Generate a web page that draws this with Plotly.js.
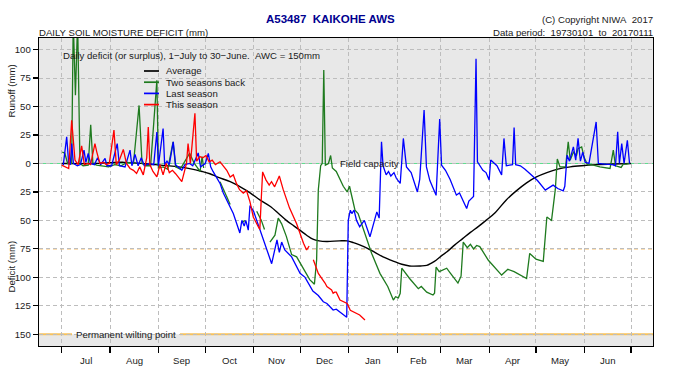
<!DOCTYPE html>
<html>
<head>
<meta charset="utf-8">
<script src="https://cdn.plot.ly/plotly-3.0.1.min.js"></script>
<style>html,body{margin:0;padding:0;background:#fff;}#chart{width:700px;height:385px;}</style>
</head>
<body>
<div id="chart"></div>
<script>
// ---------- DATA (day offset from 1 July, value: + runoff / - deficit, mm) ----------
const monthStarts = [0,31,62,92,123,153,184,215,243,274,304,335,365];
const monthNames  = ['Jul','Aug','Sep','Oct','Nov','Dec','Jan','Feb','Mar','Apr','May','Jun'];
const yTickVals = [100,75,50,25,0,-25,-50,-75,-100,-125,-150];
const yTickText = ['100','75','50','25','0','25','50','75','100','125','150'];

const avgDays = [0,20,40,60,75,82,90,95,100,108,115,121,127,134,139,144,149,153,157,161,165,170,178,183,187,191,196,200,206,213,218,223,230,234,237,240,244,247,252,257,262,267,272,278,285,291,298,304,311,318,326,335,343,354,365];
const avgVals = [0,0,1,-1,-3,-4.5,-7,-9,-12,-16,-21,-26,-32,-38,-44,-50,-55,-59,-63,-66.5,-68,-68.5,-68,-68,-69.5,-71.5,-74.5,-77.5,-82,-86,-88.5,-90,-90,-89.5,-87.5,-85,-80.5,-77.5,-71.5,-66,-60.5,-55.5,-50,-43,-32,-24.5,-17,-12,-8,-5,-3,-1.8,-1,-0.4,0];

const twoBackDays = [0.4,2,3.8,6.4,7.4,8.8,10.2,11.7,13.7,17,18.6,20,22.4,26,30,34,38,42,46,49.6,51.5,54,57,61,62,65,68,71.4,73,76,79,82,85,88.7,90,91,null,
  101.5,105,108,null,115.5,117.5,null,125,128,130,null,
  133.5,136.7,138.8,141,144,147.4,150.6,155,159,162,163.4,164.5,166,167,168,169,171,172.4,173.5,176,178,180.5,183,184.5,186,188,190,194,198.7,204,209,212.6,214,215.8,217,218,220,223,228.6,230.5,234,238,239,240,242,246.8,249,254,256,257.4,260,262,264,266,268,273.5,282,286,290,298,300,304,308.7,311,314,315.6,316.4,317.7,319.4,323,324.7,326,328,330,331,333.3,335,337,340.8,345,351.5,353.6,355,358.6,360,362,364];
const twoBackVals = [10,9,0,0,125,60,125,0,-2,-1.5,34,0,-1.5,-2,-3,-1,-2,1,0,51,0,-2,-2,73,-4,-3,-5,19,-3,-5,2,9,0,-7,6,-4,null,
  -16,-26,-36,null,-52,-50,null,-42,-50,-58,null,
  -69,-63,-48,-53,-64,-80,-82,-92,-102,-106,-85,-23,-2,0,82,-1.5,0,7,-4,-7,-13,-20,-25,-20,-29,-41,-44,-60,-79,-96.5,-108,-120,-117,-118,-114,-92,-96,-101,-110,-108,-113,-115.5,-114,-91,-95,-92,-96,-105,-99,-69,-74,-71,-75,-72,-73,-85,-98,-93,-95,-101,-79,-84,-86,-47,-50,-34,-23,4,-3,-3,19,3,10,7,13,14.6,5,-1,-1.5,-3,-4.4,11.7,-2,-3.5,-0.5,-0.6,0];

const lastDays = [1,3.2,4.5,5.5,6.4,7.5,10,12,14.3,15.5,17,18.5,21,23,25,27.8,29,32,35.6,37,40.6,43.8,45,47,49,51,53,56,59,61,62,65,66,67.5,69,71.5,73,77,79,82,84,87.5,89,92,94,95.5,97,101.5,103.6,110,114.2,115.5,117,118,119.6,120.7,123,128,134.6,138,139.5,141,143,147.4,152.8,156,161,164.5,167.7,170,172,174,176,179.5,181.6,182.7,183.7,185,186,187.4,189,191,194,197.6,202,203.5,205,206,208,209.5,211,213,214.5,217,219,221,224,228,229.5,232.3,233.8,236,240,242.3,243.5,246,249,253,255,259.6,261,264,265.6,266.5,270,272,274,275,279,282,283.5,285,289,290,291,294,297,300,305,310,313,315,318,321.5,322.5,324,325.5,328,329.5,331,332.5,334,335.5,338,342.6,344,348,353,355,356.4,357.5,359,360.5,362.6,364];
const lastVals = [-1.5,23.4,0,-1,17.5,0,-2,-1,11.7,1,8.8,0,-1,5,-1,4.4,-2,-2,17.5,-2,-3,11.7,-2,8,-2,5,-2,0,-1,27.7,-2,30.7,-1,2,-1,19,-1,-6,-1,0,-2,9.3,-3,0,8.8,-3,-7,-17.5,-26,-44,-61,-50,-55,-50,-58.5,-37,-42,-62,-88,-67,-78,-69,-76,-82,-96.5,-100,-112,-116,-121.4,-123,-126,-128.7,-128,-131.6,-134,-135,-50,-41,-44,-41,-50,-55.6,-50,-64.4,-42.5,-48,19,-2,-10,-7,-11,-8,-13,-17.5,22,-3,-8,-25,-14,47,-3,-15,-28,39,-1.5,-6,-14,-27.8,-26,-39.5,-33,-29,92,1.5,-6,-8,-14.6,3,-2,-10,22,-2,-1,31.6,-1,-2,-5,-8.8,-15,-23.4,-21,-19,-22,-24,-20,7.3,2,14.6,3,22,2,10,1,0,36.5,0,-0.5,-1,-2,27.8,0,17.5,0,20.4,0];

const thisDays = [0,3,4.5,6.4,8.5,10.5,12.8,14.5,17,18.5,21.3,22.5,24.5,26.5,28.5,30.5,33.5,35,37,39.5,41.5,43.8,46,48,50,52.3,54.5,55.5,56.5,58.5,61,63,65,67,69,71,73,77,80,81,82.5,85.4,86.5,88.5,90.5,92.5,94.5,96.5,98.5,101.5,104,105.8,108,110,112,114,116.4,118.5,120.7,122.8,126,127,128,128.8,131,133,134.5,136.5,139.5,142,146,150.6,155,157,158.6,null,161.3,164.5,168.8,170,173,174,175,176,178.4,183,185,188,191,194.4];
const thisVals = [-1.5,-3,-4.4,38,3,-1,15.4,-1,0,-1,17.5,10,0,1,-1,0,29.4,-1,3,12.3,0,-4.4,-6,-8.8,-3,-10,5,32,-1,-7,-11.7,-1,-10,0,-8,-6,-9,-16,0,17.5,0,44,2,6,5,7,1.5,3,-1,1.5,-3,-6,-12,-10,-17.5,-23,-26,-24,-33.7,-47,-55.6,-58,-29,-7.4,-14.6,-19,-16,-20.5,-11,-23,-39,-53,-70,-76,-72.5,null,-84.5,-96.5,-105,-108,-111,-114,-113,-113,-120,-123,-129,-131,-133,-137.5];

// ---------- helpers for pixel -> paper placement ----------
const L = 39, R = 653, T = 38, B = 346;
const px = p => (p - L) / (R - L);
const py = p => (B - p) / (B - T);
const FONT = 'Liberation Sans, Arial, Helvetica, sans-serif';
const FS = 9.6;
const GRIDDASH = '4px,3px';

const traces = [
  {x: avgDays, y: avgVals, name: 'Average', mode: 'lines', line: {color: '#000000', width: 1.4, shape: 'spline'}},
  {x: twoBackDays, y: twoBackVals, name: 'Two seasons back', mode: 'lines', line: {color: '#1e7a1e', width: 1.3}},
  {x: lastDays, y: lastVals, name: 'Last season', mode: 'lines', line: {color: '#0000ff', width: 1.3}},
  {x: thisDays, y: thisVals, name: 'This season', mode: 'lines', line: {color: '#ff0000', width: 1.3}}
].map(t => Object.assign(t, {connectgaps: false, hoverinfo: 'skip', showlegend: false}));

const shapes = [
  {type: 'rect', xref: 'paper', x0: 0, x1: 1, yref: 'y', y0: 0, y1: 110.2, fillcolor: '#e8e8e8', line: {width: 0}, layer: 'below'},
  {type: 'rect', xref: 'paper', x0: 0, x1: 1, yref: 'y', y0: -150, y1: -160.3, fillcolor: '#e8e8e8', line: {width: 0}, layer: 'below'},
  {type: 'line', xref: 'paper', x0: 0, x1: px(337), yref: 'y', y0: 0, y1: 0, line: {color: '#5fe08f', width: 1.2}, layer: 'between'},
  {type: 'line', xref: 'paper', x0: px(402), x1: 1, yref: 'y', y0: 0, y1: 0, line: {color: '#5fe08f', width: 1.2}, layer: 'between'},
  {type: 'line', xref: 'paper', x0: 0, x1: px(72), yref: 'y', y0: -150, y1: -150, line: {color: '#f6c25e', width: 2.2}, layer: 'between'},
  {type: 'line', xref: 'paper', x0: px(180), x1: 1, yref: 'y', y0: -150, y1: -150, line: {color: '#f6c25e', width: 2.2}, layer: 'between'},
  {type: 'line', xref: 'paper', x0: 0, x1: 1, yref: 'y', y0: -75, y1: -75, line: {color: '#f5a52a', width: 1, dash: GRIDDASH}, layer: 'between'}
];

const legendItems = [['Average', '#000000'], ['Two seasons back', '#1e7a1e'], ['Last season', '#0000ff'], ['This season', '#ff0000']];
const legendY = [71, 82.2, 93.4, 104.6];

const ann = [];
const txt = (text, x, y, xanchor, opts) => Object.assign({text, xref: 'paper', yref: 'paper', x, y, xanchor, yanchor: 'middle', showarrow: false, font: {family: FONT, size: FS, color: '#1a1a1a'}}, opts || {});

ann.push(txt('<b>A53487\u00a0\u00a0KAIKOHE AWS</b>', px(330), py(19), 'center', {font: {family: FONT, size: 11.5, color: '#00008f'}}));
ann.push(txt('DAILY SOIL MOISTURE DEFICIT (mm)', 0, py(32), 'left', {xshift: -2}));
ann.push(txt('(C) Copyright NIWA\u00a0\u00a02017', 1, py(20), 'right', {xshift: 2}));
ann.push(txt('Data period:\u00a0\u00a019730101\u00a0\u00a0to\u00a0\u00a020170111', 1, py(32), 'right', {xshift: 2}));
ann.push(txt('Daily deficit (or surplus), 1\u2212July to 30\u2212June.\u00a0\u00a0AWC = 150mm', px(63), py(55), 'left', {xshift: -2}));
legendItems.forEach((it, i) => {
  ann.push(txt(it[0], px(166), py(legendY[i]), 'left', {xshift: -2}));
  shapes.push({type: 'line', xref: 'paper', yref: 'paper', x0: px(144), x1: px(159), y0: py(legendY[i]), y1: py(legendY[i]), line: {color: it[1], width: 1.7}, layer: 'above'});
});
ann.push(Object.assign(txt('Field capacity', px(369.5), 0, 'center'), {yref: 'y'}));
ann.push(Object.assign(txt('Permanent wilting point', px(126), -150, 'center'), {yref: 'y'}));
ann.push(txt('Runoff (mm)', px(10.5), py(91), 'center', {textangle: -90}));
ann.push(txt('Deficit (mm)', px(10.5), py(267), 'center', {textangle: -90}));
monthNames.forEach((m, i) => {
  ann.push({text: m, xref: 'x', yref: 'paper', x: (monthStarts[i] + monthStarts[i + 1]) / 2, y: py(360), xanchor: 'center', yanchor: 'middle', showarrow: false, font: {family: FONT, size: FS, color: '#1a1a1a'}});
});

const layout = {
  width: 700, height: 385,
  margin: {l: L, r: 700 - R, t: T, b: 385 - B, pad: 0},
  paper_bgcolor: '#ffffff', plot_bgcolor: '#ffffff',
  showlegend: false,
  font: {family: FONT, size: FS, color: '#1a1a1a'},
  xaxis: {
    range: [-14.55, 379.04], tickmode: 'array', tickvals: monthStarts, ticktext: monthStarts.map(() => ''),
    ticks: 'outside', ticklen: 6, tickwidth: 1.2, tickcolor: '#000',
    showgrid: true, gridcolor: '#bdbdbd', griddash: GRIDDASH, gridwidth: 1,
    showline: true, mirror: true, linecolor: '#000', linewidth: 1.3, zeroline: false, fixedrange: true
  },
  yaxis: {
    range: [-160.3, 110.2], tickmode: 'array', tickvals: yTickVals, ticktext: yTickText,
    ticks: 'outside', ticklen: 5, tickwidth: 1.2, tickcolor: '#000',
    tickfont: {family: FONT, size: FS, color: '#1a1a1a'},
    showgrid: true, gridcolor: '#bdbdbd', griddash: GRIDDASH, gridwidth: 1,
    showline: true, mirror: true, linecolor: '#000', linewidth: 1.3, zeroline: false, fixedrange: true
  },
  shapes: shapes,
  annotations: ann
};

Plotly.newPlot('chart', traces, layout, {staticPlot: true, displayModeBar: false});
</script>
</body>
</html>
